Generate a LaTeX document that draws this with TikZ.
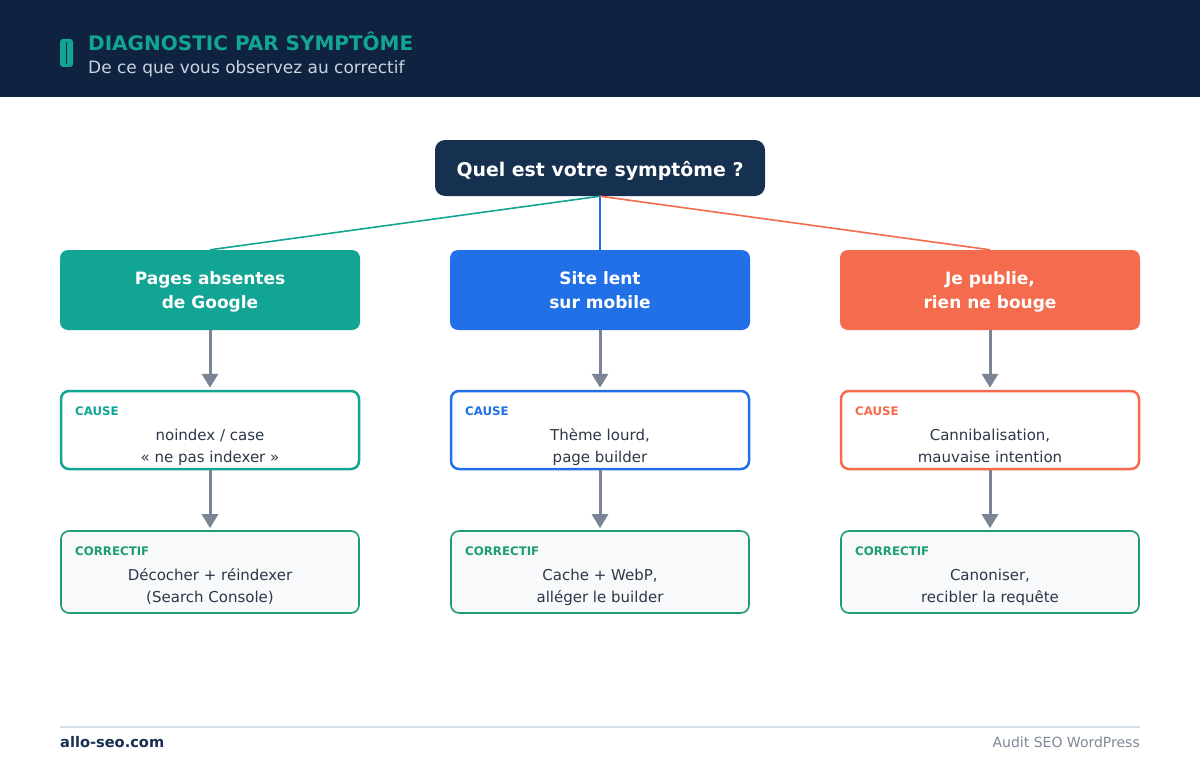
\documentclass[tikz,border=0pt]{standalone}
\usepackage{fontspec}
\setmainfont{DejaVu Sans}
\usetikzlibrary{arrows.meta}
\definecolor{hdr}{HTML}{0F2340}
\definecolor{rootc}{HTML}{163050}
\definecolor{teal}{HTML}{13A594}
\definecolor{bluec}{HTML}{2270E8}
\definecolor{orng}{HTML}{F46B4D}
\definecolor{grn}{HTML}{1E9E6A}
\definecolor{arr}{HTML}{7B8494}
\definecolor{txt}{HTML}{2D3748}
\definecolor{subt}{HTML}{C8D3DF}
\definecolor{corfill}{HTML}{F7F9FB}
\definecolor{foot}{HTML}{D3DEE8}
\definecolor{footgray}{HTML}{7F8896}
\tikzset{
  symbox/.style={rounded corners=8pt, minimum width=300pt, minimum height=80pt, inner sep=0pt},
  symlabel/.style={text=white, font=\bfseries\fontsize{17}{24}\selectfont, align=center, inner sep=0pt, text height=13pt, text depth=4pt},
  causebox/.style={rounded corners=8pt, draw=#1, line width=2.5pt, fill=white, minimum width=298pt, minimum height=78pt, inner sep=0pt},
  corbox/.style={rounded corners=8pt, draw=grn, line width=1.6pt, fill=corfill, minimum width=298pt, minimum height=82pt, inner sep=0pt},
  tag/.style={font=\bfseries\fontsize{11.8}{13}\selectfont, anchor=west, inner sep=0pt},
  body/.style={font=\fontsize{15}{22.5}\selectfont, text=txt, align=center, inner sep=0pt, text height=11pt, text depth=4pt},
  flow/.style={draw=arr, line width=3pt, -{Triangle[length=14pt,width=16pt]}},
  branch/.style={line width=1.6pt}
}
\begin{document}
\begin{tikzpicture}[x=1pt,y=-1pt]
\useasboundingbox (0,0) rectangle (1200,760);
\fill[white] (0,0) rectangle (1200,760);
\fill[hdr] (0,0) rectangle (1200,97);
% icon
\fill[teal, rounded corners=3pt] (60,39) rectangle (73,67);
\draw[hdr, line width=1.5pt] (66.5,42) -- (66.5,64);
\node[anchor=base west, inner sep=0pt, text=teal, font=\bfseries\fontsize{20}{22}\selectfont] (title) at (88,51) {DIAGNOSTIC PAR SYMPTÔME};
\node[anchor=base west, inner sep=0pt, text=subt, font=\fontsize{17}{20}\selectfont] (subtitle) at (88,74) {De ce que vous observez au correctif};

% root
\node[fill=rootc, rounded corners=10pt, minimum width=330pt, minimum height=56pt, inner sep=0pt] (root) at (600,168) {};
\node[text=white, font=\bfseries\fontsize{18.9}{22}\selectfont, inner sep=0pt] (roottxt) at (600,170.5) {Quel est votre symptôme ?};

% symptom boxes
\node[symbox, fill=teal] (s1) at (210,290) {};
\node[symbox, fill=bluec] (s2) at (600,290) {};
\node[symbox, fill=orng] (s3) at (990,290) {};
\node[symlabel] (s1l) at (210,303.5) {Pages absentes\\de Google};
\node[symlabel] (s2l) at (600,303.5) {Site lent\\sur mobile};
\node[symlabel] (s3l) at (990,303.5) {Je publie,\\rien ne bouge};

\draw[branch, teal] (root.south) -- (s1.north);
\draw[branch, bluec] (root.south) -- (s2.north);
\draw[branch, orng] (root.south) -- (s3.north);

% cause boxes
\node[causebox=teal] (c1) at (210,430) {};
\node[causebox=bluec] (c2) at (600,430) {};
\node[causebox=orng] (c3) at (990,430) {};
\node[tag, text=teal] (c1t) at (75,411) {CAUSE};
\node[tag, text=bluec] (c2t) at (465,411) {CAUSE};
\node[tag, text=orng] (c3t) at (855,411) {CAUSE};
\node[body] (c1b) at (210,459) {noindex / case\\« ne pas indexer »};
\node[body] (c2b) at (600,459) {Thème lourd,\\page builder};
\node[body] (c3b) at (990,459) {Cannibalisation,\\mauvaise intention};

% correctif boxes
\node[corbox] (f1) at (210,572) {};
\node[corbox] (f2) at (600,572) {};
\node[corbox] (f3) at (990,572) {};
\node[tag, text=grn] (f1t) at (75,551) {CORRECTIF};
\node[tag, text=grn] (f2t) at (465,551) {CORRECTIF};
\node[tag, text=grn] (f3t) at (855,551) {CORRECTIF};
\node[body] (f1b) at (210,599) {Décocher + réindexer\\(Search Console)};
\node[body] (f2b) at (600,599) {Cache + WebP,\\alléger le builder};
\node[body] (f3b) at (990,599) {Canoniser,\\recibler la requête};

% arrows
\foreach \i in {1,2,3}{
  \draw[flow] (s\i.south) -- ([yshift=2pt]c\i.north);
  \draw[flow] (c\i.south) -- ([yshift=2pt]f\i.north);
}

% footer
\draw[foot, line width=2pt] (60,727) -- (1140,727);
\node[anchor=base west, inner sep=0pt, text=rootc, font=\bfseries\fontsize{14.6}{16}\selectfont] (site) at (60,747) {allo-seo.com};
\node[anchor=base east, inner sep=0pt, text=footgray, font=\fontsize{14}{16}\selectfont] (audit) at (1140,747) {Audit SEO WordPress};
\end{tikzpicture}
\end{document}
